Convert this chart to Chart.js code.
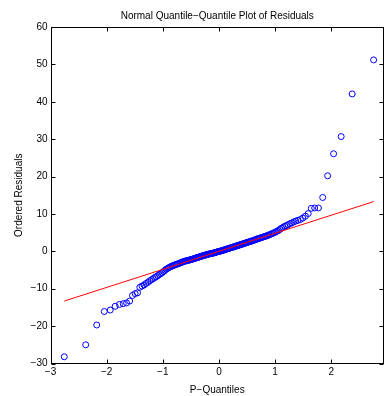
<!DOCTYPE html>
<html>
<head>
<meta charset="utf-8">
<script src="https://cdn.jsdelivr.net/npm/chart.js@4.4.1/dist/chart.umd.min.js"></script>
<style>
  html, body { margin: 0; padding: 0; background: #fff; overflow: hidden; }
  canvas { display: block; }
</style>
</head>
<body>
<canvas id="qqplot" width="385" height="396"></canvas>
<script>
// theoretical normal quantiles (x) and sorted residuals (y)
const quantiles = [
    -2.755, -2.373, -2.177, -2.042, -1.936, -1.848, -1.772, -1.705, -1.645, -1.590,
    -1.540, -1.493, -1.450, -1.409, -1.370, -1.334, -1.299, -1.265, -1.233, -1.202,
    -1.172, -1.143, -1.115, -1.088, -1.062, -1.036, -1.011, -0.987, -0.963, -0.940,
    -0.917, -0.895, -0.874, -0.852, -0.831, -0.811, -0.790, -0.770, -0.751, -0.731,
    -0.712, -0.693, -0.674, -0.656, -0.638, -0.620, -0.602, -0.584, -0.567, -0.550,
    -0.532, -0.515, -0.499, -0.482, -0.466, -0.449, -0.433, -0.417, -0.401, -0.385,
    -0.370, -0.354, -0.338, -0.323, -0.308, -0.292, -0.277, -0.262, -0.247, -0.232,
    -0.217, -0.202, -0.187, -0.171, -0.156, -0.141, -0.126, -0.111, -0.096, -0.081,
    -0.066, -0.052, -0.037, -0.022, -0.007,
    0.007, 0.022, 0.037, 0.052, 0.066, 0.081, 0.096, 0.111, 0.126, 0.141,
    0.156, 0.171, 0.187, 0.202, 0.217, 0.232, 0.247, 0.262, 0.277, 0.292,
    0.308, 0.323, 0.338, 0.354, 0.370, 0.385, 0.401, 0.417, 0.433, 0.449,
    0.466, 0.482, 0.499, 0.515, 0.532, 0.550, 0.567, 0.584, 0.602, 0.620,
    0.638, 0.656, 0.674, 0.693, 0.712, 0.731, 0.751, 0.770, 0.790, 0.811,
    0.831, 0.852, 0.874, 0.895, 0.917, 0.940, 0.963, 0.987, 1.011, 1.036,
    1.062, 1.088, 1.115, 1.143, 1.172, 1.202, 1.233, 1.265, 1.299, 1.334,
    1.370, 1.409, 1.450, 1.493, 1.540, 1.590, 1.645, 1.705, 1.772, 1.848,
    1.936, 2.042, 2.177, 2.373, 2.755
]

const residuals = [
    -28.2, -25.0, -19.7, -16.1, -15.7, -14.7, -14.2, -14.0, -13.8, -13.3,
    -11.8, -11.3, -11.1, -9.6, -9.3, -9.0, -8.6, -8.3, -7.9, -7.6,
    -7.3, -7.0, -6.8, -6.5, -6.2, -5.95, -5.7, -5.4, -5.1, -4.8,
    -4.6, -4.4, -4.2, -4.05, -3.9, -3.8, -3.65, -3.55, -3.45, -3.35,
    -3.25, -3.12, -3.0, -2.88, -2.8, -2.7, -2.6, -2.55, -2.5, -2.4,
    -2.35, -2.3, -2.2, -2.15, -2.05, -2.0, -1.9, -1.8, -1.75, -1.65,
    -1.6, -1.5, -1.45, -1.35, -1.3, -1.2, -1.15, -1.1, -1.0, -0.95,
    -0.9, -0.8, -0.75, -0.7, -0.65, -0.6, -0.55, -0.5, -0.45, -0.4,
    -0.3, -0.25, -0.2, -0.1, -0.05, 0.0, 0.05, 0.1, 0.2, 0.25,
    0.3, 0.4, 0.45, 0.55, 0.6, 0.7, 0.75, 0.85, 0.9, 1.0,
    1.05, 1.1, 1.2, 1.25, 1.35, 1.4, 1.5, 1.55, 1.65, 1.7,
    1.8, 1.85, 1.95, 2.0, 2.1, 2.2, 2.25, 2.35, 2.45, 2.5,
    2.6, 2.7, 2.75, 2.85, 2.95, 3.05, 3.15, 3.25, 3.35, 3.45,
    3.55, 3.65, 3.75, 3.85, 3.95, 4.05, 4.15, 4.3, 4.4, 4.55,
    4.7, 4.85, 5.0, 5.2, 5.4, 5.6, 5.9, 6.2, 6.4, 6.7,
    6.9, 7.1, 7.4, 7.6, 7.9, 8.1, 8.3, 8.5, 8.9, 9.4,
    10.1, 11.5, 11.6, 11.6, 14.4, 20.2, 26.1, 30.7, 42.1, 51.2
]

// reference line ends
const refX = [-2.755, 2.755]
const refY = [-13.3, 13.3]

const xTicks = [-3, -2, -1, 0, 1, 2]
const yTicks = [-30, -20, -10, 0, 10, 20, 30, 40, 50, 60]

const FONT = "'Liberation Sans', Arial, sans-serif"
const minus = v => String(v).replace('-', '\u2212')

// matlab style box with inward ticks on all four sides
const boxPlugin = {
    id: 'box',
    afterDraw(chart) {
        const ctx = chart.ctx
        const a = chart.chartArea
        const xs = chart.scales.x
        const ys = chart.scales.y
        const L = Math.round(a.left) + 0.5
        const R = Math.round(a.right) - 0.5
        const T = Math.round(a.top) + 0.5
        const B = Math.round(a.bottom) - 0.5
        const len = 4
        ctx.save()
        ctx.strokeStyle = '#000'
        ctx.lineWidth = 1
        ctx.strokeRect(L, T, R - L, B - T)
        ctx.beginPath()
        xTicks.forEach(v => {
            const px = Math.round(xs.getPixelForValue(v)) + 0.5
            ctx.moveTo(px, B); ctx.lineTo(px, B - len)
            ctx.moveTo(px, T); ctx.lineTo(px, T + len)
        })
        yTicks.forEach(v => {
            const py = Math.round(ys.getPixelForValue(v)) + 0.5
            ctx.moveTo(L, py); ctx.lineTo(L + len, py)
            ctx.moveTo(R, py); ctx.lineTo(R - len, py)
        })
        ctx.stroke()
        ctx.restore()
    }
}

let points = []
quantiles.forEach((q, i) => {
    points.push({ x: q, y: residuals[i] })
})

let refLine = []
refX.forEach((v, i) => {
    refLine.push({ x: v, y: refY[i] })
})

const qq = new Chart("qqplot", {
    type: "scatter",
    data: {
        datasets: [{
            type: "line",
            data: refLine,
            borderColor: "#ff0000",
            borderWidth: 1,
            pointRadius: 0,
            fill: false,
            order: 0
        }, {
            data: points,
            pointStyle: "circle",
            pointRadius: 3,
            borderColor: "#0000ff",
            backgroundColor: "rgba(0,0,0,0)",
            borderWidth: 1,
            order: 1
        }]
    },
    options: {
        responsive: false,
        maintainAspectRatio: false,
        animation: false,
        devicePixelRatio: 1,
        layout: { autoPadding: false, padding: { top: 0, left: 0, right: 1, bottom: 0 } },
        plugins: {
            legend: { display: false },
            tooltip: { enabled: false },
            title: {
                display: true,
                fullSize: false,
                text: "Normal Quantile\u2212Quantile Plot of Residuals",
                color: "#000",
                font: { family: FONT, size: 10, weight: "normal" },
                padding: { top: 10, bottom: 5 }
            }
        },
        scales: {
            x: {
                type: "linear",
                min: -3,
                max: 2.94,
                grid: { display: false, drawTicks: false },
                border: { display: false },
                afterFit: s => { s.height = 32.5 },
                ticks: {
                    stepSize: 1,
                    includeBounds: false,
                    padding: 3,
                    color: "#000",
                    maxRotation: 0,
                    font: { family: FONT, size: 10 },
                    callback: minus
                },
                title: {
                    display: true,
                    text: "P\u2212Quantiles",
                    color: "#000",
                    font: { family: FONT, size: 10 },
                    padding: { top: 0, bottom: 0 }
                }
            },
            y: {
                type: "linear",
                min: -30,
                max: 60,
                grid: { display: false, drawTicks: false },
                border: { display: false },
                afterFit: s => { s.width = 50.5 },
                ticks: {
                    stepSize: 10,
                    padding: 3,
                    color: "#000",
                    font: { family: FONT, size: 10 },
                    callback: minus
                },
                title: {
                    display: true,
                    text: "Ordered Residuals",
                    color: "#000",
                    font: { family: FONT, size: 10 },
                    padding: { top: 13, bottom: 0 }
                }
            }
        }
    },
    plugins: [boxPlugin]
})
</script>
</body>
</html>
